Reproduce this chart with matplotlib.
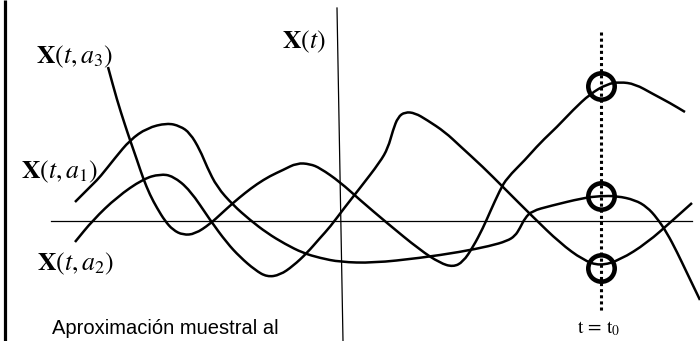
import matplotlib
matplotlib.use("Agg")
import matplotlib.pyplot as plt
from matplotlib.path import Path
from matplotlib.patches import PathPatch

# sample paths X(t, a_i), traced as (t, value) in drawing units
a1_t = [75, 93, 100, 115, 130, 147, 167, 180, 190, 200, 207, 217, 233, 250, 267, 285, 303,
        320, 340, 373, 420, 460, 490, 507, 515, 520, 525, 532, 550, 583, 600, 617, 635,
        647, 657, 667, 677, 687, 700]
a1_x = [202, 184, 177, 158, 140, 128, 123, 126, 133, 150, 167, 187, 205, 220, 233, 244, 253,
        258, 262, 263, 258, 252, 246, 241, 236, 228, 218, 211, 206, 198, 196, 196, 200,
        207, 218, 233, 252, 273, 300]

a2_t = [75, 93, 117, 143, 160, 173, 190, 210, 227, 240, 255, 267, 280, 293, 307, 320, 330,
        345, 360, 380, 388, 393, 398, 405, 415, 427, 445, 460, 483, 503, 533, 560, 583,
        600, 620, 647, 673, 692]
a2_x = [242, 220, 197, 179, 174, 176, 190, 220, 243, 257, 270, 277, 275, 266, 253, 238, 227,
        207, 188, 162, 148, 130, 117, 112, 113, 120, 132, 146, 167, 187, 217, 243, 260,
        266, 260, 243, 220, 203]

a3_t = [108, 117, 125, 130, 137, 143, 150, 157, 165, 173, 183, 195, 210, 222, 233, 245, 257,
        270, 283, 297, 310, 320, 340, 360, 387, 420, 440, 453, 463, 473, 483, 490, 500,
        507, 525, 540, 557, 573, 590, 607, 620, 635, 653, 670, 685]
a3_x = [67, 100, 125, 140, 160, 178, 195, 208, 221, 230, 235, 234, 224, 213, 203, 193, 184,
        176, 170, 163, 164, 168, 182, 200, 223, 250, 263, 267, 262, 247, 228, 212, 190,
        178, 160, 143, 127, 110, 94, 84, 82, 84, 94, 103, 112]

t0 = 601
t0_values = [86, 196, 268]


def smooth_path(t, x):
    # quadratic bezier pieces between midpoints, the traced points act as controls
    pts = list(zip(t, x))
    verts = [pts[0]]
    codes = [Path.MOVETO]
    mid = lambda p, q: ((p[0] + q[0]) / 2, (p[1] + q[1]) / 2)
    verts.append(mid(pts[0], pts[1]))
    codes.append(Path.LINETO)
    for i in range(1, len(pts) - 1):
        verts += [pts[i], mid(pts[i], pts[i + 1])]
        codes += [Path.CURVE3, Path.CURVE3]
    verts.append(pts[-1])
    codes.append(Path.LINETO)
    return Path(verts, codes)


fig = plt.figure(figsize=(7, 3.41), dpi=100)
ax = fig.add_axes([0, 0, 1, 1])
ax.set_xlim(0, 700)
ax.set_ylim(341, 0)
ax.axis("off")

plt.rcParams["mathtext.fontset"] = "stix"

# frame edge and coordinate axes
ax.plot([4.5, 4.5], [0, 341], color="black", lw=2.3, solid_capstyle="butt")
ax.plot([51, 692], [220.5, 220.5], color="black", lw=0.9)
ax.plot([337, 343], [8, 341], color="black", lw=0.9)

for t, x in [(a1_t, a1_x), (a2_t, a2_x), (a3_t, a3_x)]:
    ax.add_patch(PathPatch(smooth_path(t, x), facecolor="none", edgecolor="black",
                           lw=1.8, joinstyle="round", capstyle="butt"))

# instant t = t0 and the sampled values
ax.plot([t0, t0], [32, 313], color="black", lw=2.2, linestyle=(0, (1, 1)))
ax.plot([t0] * len(t0_values), t0_values, linestyle="none", marker="o", ms=19,
        mfc="none", mec="black", mew=3.3)

lab = dict(fontsize=18.5, color="black", va="center", ha="left")
ax.text(282, 42, r"$\mathbf{X}\left(t\right)$", **lab)
ax.text(36, 57, r"$\mathbf{X}\left(t,a_3\right)$", **lab)
ax.text(21, 172, r"$\mathbf{X}\left(t,a_1\right)$", **lab)
ax.text(37, 264, r"$\mathbf{X}\left(t,a_2\right)$", **lab)

ax.text(52, 329, "Aproximación muestral al", fontsize=14.5, family="Liberation Sans",
        color="black", va="center", ha="left")
ax.text(577, 328, r"$\mathrm{t}\,=\,\mathrm{t}_0$", fontsize=14, color="black",
        va="center", ha="left")

fig.savefig("out.png", dpi=100, facecolor="white")
